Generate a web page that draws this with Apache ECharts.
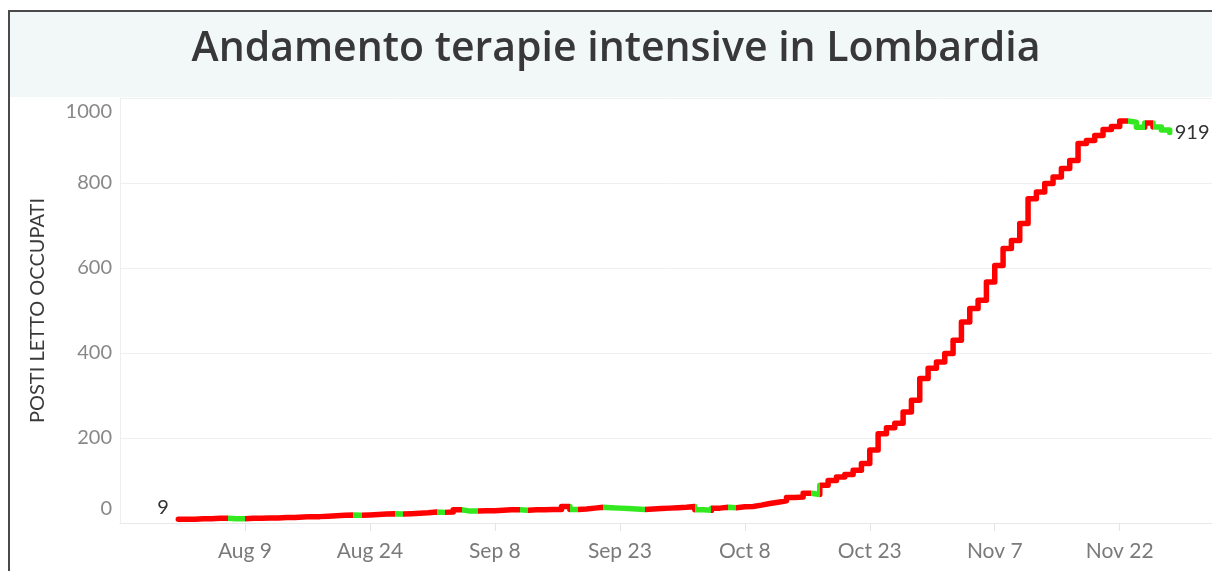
<!DOCTYPE html>
<html>
<head>
<meta charset="utf-8">
<script src="https://cdn.jsdelivr.net/npm/echarts@6/dist/echarts.min.js"></script>
<style>
html,body{margin:0;padding:0;background:#fff;overflow:hidden;}
#c{width:1212px;height:571px;}
</style>
</head>
<body>
<div id="c"></div>
<script>
// ---- data ----
const titleText = 'Andamento terapie intensive in Lombardia';
const yAxisName = 'POSTI LETTO OCCUPATI';
const firstDate = [2020, 7, 1];           // Aug 1 2020 (first observation)
const axisOrigin = [2020, 6, 25];         // Jul 25 2020 (axis start, day 0)
const monthNames = ['Jan','Feb','Mar','Apr','May','Jun','Jul','Aug','Sep','Oct','Nov','Dec'];
// daily ICU occupancy, Aug 1 .. Nov 28
const icuValues = [
  9, 9, 10, 10, 11, 11, 10, 10, 11, 11,
  12, 12, 13, 13, 14, 15, 15, 16, 17, 18,
  19, 18, 19, 20, 21, 22, 21, 22, 23, 24,
  26, 25, 26, 31, 28, 28, 29, 29, 30, 31,
  31, 30, 31, 31, 32, 32, 39, 32, 33, 35,
  37, 36, 35, 34, 33, 32, 33, 34, 35, 36,
  37, 39, 31, 30, 35, 37, 36, 38, 39, 42,
  46, 49, 52, 60, 61, 70, 67, 89, 100, 108,
  114, 124, 140, 172, 210, 224, 235, 261, 289, 340,
  364, 379, 399, 430, 473, 505, 524, 567, 606, 646,
  665, 705, 763, 779, 799, 814, 834, 853, 893, 900,
  912, 926, 933, 946, 943, 931, 941, 932, 925, 919
];
const yTicks = [0, 200, 400, 600, 800, 1000];
const upColor = '#ff0000';
const downColor = '#33e81f';

// ---- derived ----
const dayMs = 86400000;
const t0 = Date.UTC(axisOrigin[0], axisOrigin[1], axisOrigin[2]);
const tFirst = Date.UTC(firstDate[0], firstDate[1], firstDate[2]);
const firstX = Math.round((tFirst - t0) / dayMs);
const seriesData = icuValues.map((v, i) => [firstX + i, v]);

// colour of each step: red when rising, green when falling, flat keeps previous
const pieces = [];
let prevColor = upColor;
for (let i = 0; i < icuValues.length; i++) {
  const ch = i === 0 ? 1 : icuValues[i] - icuValues[i - 1];
  const col = ch < 0 ? downColor : (ch > 0 ? upColor : prevColor);
  prevColor = col;
  const last = pieces[pieces.length - 1];
  if (last && last.color === col) { last.lt = firstX + i + 1; }
  else pieces.push({ gte: firstX + i, lt: firstX + i + 1, color: col });
}
pieces[pieces.length - 1].lt = firstX + icuValues.length + 5;
pieces[0].gte = firstX - 5;

const chart = echarts.init(document.getElementById('c'));
chart.setOption({
  animation: false,
  graphic: [
    { type: 'rect', z: -10, shape: { x: 9, y: 11, width: 1300, height: 86 }, style: { fill: '#f2f7f7' } },
    { type: 'rect', z: 10, shape: { x: 9, y: 11, width: 1300, height: 700 }, style: { fill: null, stroke: '#4a4a4a', lineWidth: 2 } },
    { type: 'text', z: 10, style: { text: titleText, x: 616, y: 49, textAlign: 'center', textVerticalAlign: 'middle',
        font: '600 41px "Open Sans"', fill: '#383838' } }
  ],
  grid: { left: 120, width: 1133, top: 98, bottom: 48, containLabel: false, outerBoundsMode: 'none' },
  xAxis: {
    type: 'value', min: 0, max: 136, interval: 15,
    axisLine: { show: true, lineStyle: { color: '#e8e8e8', width: 1 } },
    axisTick: { show: true, length: 8, lineStyle: { color: '#e4e4e4' } },
    splitLine: { show: false },
    axisLabel: {
      showMinLabel: false, margin: 18, color: '#7a7a7a', fontSize: 21, fontFamily: 'Lato',
      formatter: v => { const d = new Date(t0 + v * dayMs); return monthNames[d.getUTCMonth()] + ' ' + d.getUTCDate(); }
    }
  },
  yAxis: {
    type: 'value', min: yTicks[0], max: yTicks[yTicks.length - 1], interval: yTicks[1] - yTicks[0],
    name: yAxisName, nameLocation: 'middle', nameGap: 72, nameRotate: 90,
    nameTextStyle: { color: '#3a3a3a', fontSize: 20, fontFamily: 'Lato' },
    axisLine: { show: true, lineStyle: { color: '#eeeeee' } },
    axisTick: { show: false },
    splitLine: { lineStyle: { color: '#efefef', width: 1 } },
    axisLabel: {
      margin: 8, color: '#888', fontSize: 20, fontFamily: 'Lato',
      formatter: v => v === yTicks[0] ? '{lo|' + v + '}' : (v === yTicks[yTicks.length - 1] ? '{hi|' + v + '}' : '{n|' + v + '}'),
      rich: {
        lo: { padding: [0, 0, 28, 0], color: '#888', fontSize: 20, fontFamily: 'Lato' },
        hi: { padding: [28, 0, 0, 0], color: '#888', fontSize: 20, fontFamily: 'Lato' },
        n: { color: '#888', fontSize: 20, fontFamily: 'Lato' }
      }
    }
  },
  visualMap: {
    type: 'piecewise', show: false, dimension: 0, seriesIndex: 0,
    pieces: pieces, outOfRange: { color: upColor }
  },
  series: [{
    type: 'line', step: 'end', showSymbol: false, symbol: 'none',
    lineStyle: { width: 5.5, cap: 'round', join: 'round' },
    data: seriesData,
    endLabel: { show: true, distance: 5, formatter: p => String(p.value[1]), color: '#333', fontSize: 20, fontFamily: 'Lato' },
    markPoint: {
      symbol: 'circle', symbolSize: 1, itemStyle: { color: 'rgba(0,0,0,0)' },
      label: { show: true, position: 'left', distance: 9, offset: [0, -12], color: '#333', fontSize: 20, fontFamily: 'Lato',
        formatter: p => String(p.value) },
      data: [{ coord: seriesData[0], value: icuValues[0] }]
    }
  }]
});
</script>
</body>
</html>
